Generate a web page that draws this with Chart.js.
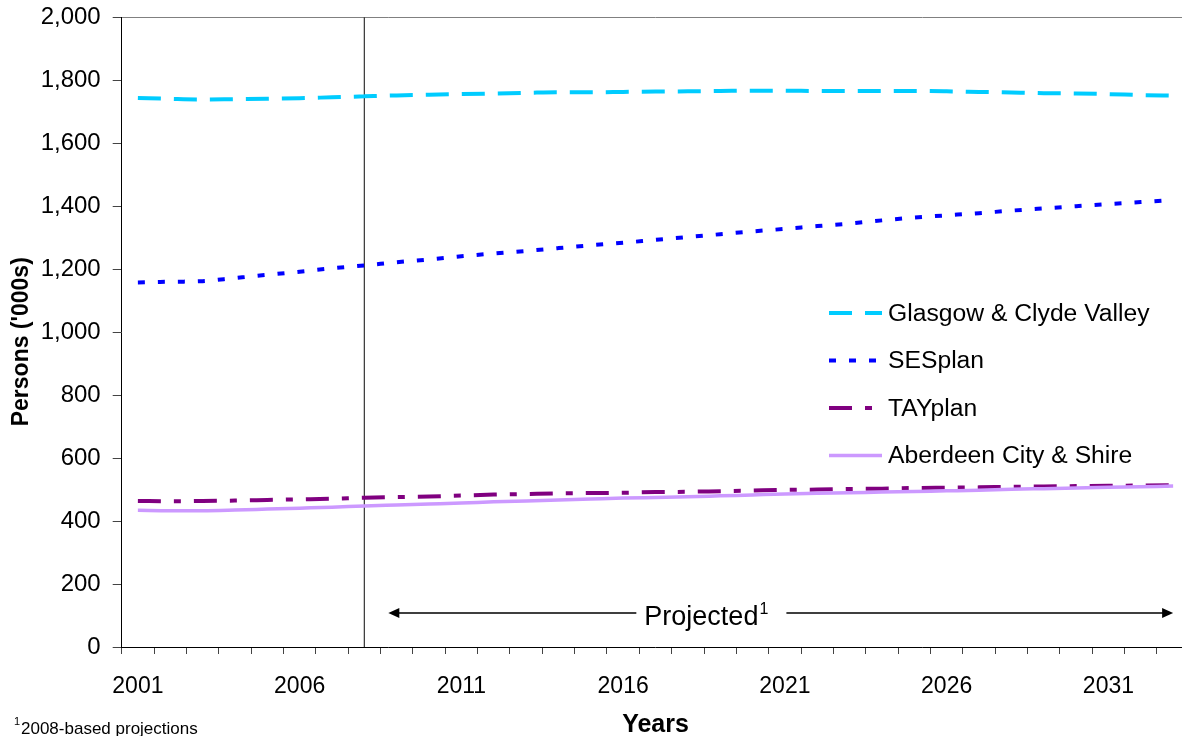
<!DOCTYPE html>
<html>
<head>
<meta charset="utf-8">
<script src="https://cdn.jsdelivr.net/npm/chart.js@4.4.0/dist/chart.umd.min.js"></script>
<style>
  html, body { margin: 0; padding: 0; overflow: hidden; background: #fff; }
  #wrap { position: relative; width: 1200px; height: 736px; }
</style>
</head>
<body>
<div id="wrap"><canvas id="myChart" width="1200" height="736"></canvas></div>
<script>
const years = ["2001", "2002", "2003", "2004", "2005", "2006", "2007", "2008", "2009", "2010",
  "2011", "2012", "2013", "2014", "2015", "2016", "2017", "2018", "2019", "2020",
  "2021", "2022", "2023", "2024", "2025", "2026", "2027", "2028", "2029", "2030",
  "2031", "2032", "2033"];
const labelledYears = ["2001", "2006", "2011", "2016", "2021", "2026", "2031"];
const yTicks = [0, 200, 400, 600, 800, 1000, 1200, 1400, 1600, 1800, 2000];
const seriesNames = ["Glasgow & Clyde Valley", "SESplan", "TAYplan", "Aberdeen City & Shire"];

// persons, thousands
const glasgow = [1744, 1741, 1739, 1740, 1741, 1743, 1746, 1749, 1752, 1754,
  1756, 1758, 1760, 1762, 1762, 1763, 1764, 1765, 1766, 1767,
  1767, 1766, 1766, 1766, 1766, 1765, 1763, 1761, 1759, 1758,
  1756, 1753, 1751];
const sesplan = [1158, 1160, 1162, 1172, 1182, 1192, 1203, 1212, 1222, 1231,
  1241, 1250, 1258, 1267, 1276, 1284, 1293, 1302, 1311, 1320,
  1328, 1337, 1345, 1355, 1364, 1371, 1378, 1386, 1393, 1400,
  1407, 1413, 1420];
const tayplan = [464, 463, 464, 465, 467, 469, 471, 474, 476, 478,
  481, 484, 486, 488, 489, 490, 492, 493, 495, 497,
  499, 500, 502, 503, 505, 506, 507, 509, 510, 511,
  512, 513, 514];
const aberdeen = [434, 433, 433, 435, 438, 441, 444, 448, 451, 454,
  457, 461, 464, 467, 470, 473, 475, 477, 480, 483,
  486, 488, 490, 492, 494, 496, 498, 501, 503, 505,
  507, 509, 511];

const projectionStart = "2008";
const projectedText = "Projected";
const footnoteText = "2008-based projections";

const FONT = "'Liberation Sans', Arial, sans-serif";
const ctx = document.getElementById("myChart").getContext("2d");

const styles = [
  { color: "#00CCFF", dash: [23, 13], width: 4 },
  { color: "#0000FF", dash: [7, 13], width: 4 },
  { color: "#800080", dash: [23, 13, 7, 13], width: 4 },
  { color: "#CC99FF", dash: [], width: 3.5 },
];

const seriesData = [glasgow, sesplan, tayplan, aberdeen];

// vertical marker at start of projections
const markerPlugin = {
  id: "marker",
  beforeDatasetsDraw(chart) {
    const { ctx, chartArea, scales } = chart;
    const x = scales.x.getPixelForValue(years.indexOf(projectionStart));
    ctx.save();
    ctx.strokeStyle = "#333";
    ctx.lineWidth = 1.2;
    ctx.beginPath();
    ctx.moveTo(x, chartArea.top);
    ctx.lineTo(x, chartArea.bottom);
    ctx.stroke();
    ctx.restore();
  },
};

// legend, projected arrow, footnote
const overlayPlugin = {
  id: "overlay",
  afterDatasetsDraw(chart) {
    const { ctx, scales } = chart;
    ctx.save();

    // legend
    chart.data.datasets.forEach((ds, i) => {
      const y = 313 + i * 47.5;
      ctx.strokeStyle = ds.borderColor;
      ctx.lineWidth = ds.borderWidth;
      ctx.setLineDash(ds.borderDash);
      ctx.beginPath();
      ctx.moveTo(829, y);
      ctx.lineTo(882, y);
      ctx.stroke();
      ctx.setLineDash([]);
      ctx.fillStyle = "#000";
      ctx.font = "24.7px " + FONT;
      ctx.textBaseline = "middle";
      ctx.textAlign = "left";
      ctx.fillText(ds.label, 888, y + 1);
    });

    // projected arrow
    const x0 = scales.x.getPixelForValue(years.indexOf(projectionStart)) + 24;
    const x1 = scales.x.getPixelForValue(years.length - 1);
    const ay = scales.y.getPixelForValue(108);
    ctx.font = "27px " + FONT;
    ctx.textBaseline = "alphabetic";
    const tx = x0 + 256;
    const tw = ctx.measureText(projectedText).width;
    ctx.fillText(projectedText, tx, ay + 12);
    ctx.font = "16px " + FONT;
    ctx.fillText("1", tx + tw + 1, ay + 1);

    ctx.strokeStyle = "#000";
    ctx.lineWidth = 1.5;
    ctx.beginPath();
    ctx.moveTo(x0 + 8, ay);
    ctx.lineTo(tx - 8, ay);
    ctx.moveTo(tx + tw + 28, ay);
    ctx.lineTo(x1 - 8, ay);
    ctx.stroke();
    ctx.fillStyle = "#000";
    ctx.beginPath();
    ctx.moveTo(x0, ay);
    ctx.lineTo(x0 + 11, ay - 5);
    ctx.lineTo(x0 + 11, ay + 5);
    ctx.closePath();
    ctx.fill();
    ctx.beginPath();
    ctx.moveTo(x1, ay);
    ctx.lineTo(x1 - 11, ay - 5);
    ctx.lineTo(x1 - 11, ay + 5);
    ctx.closePath();
    ctx.fill();

    // footnote
    ctx.font = "11px " + FONT;
    ctx.fillText("1", 14, 725);
    ctx.font = "17px " + FONT;
    ctx.fillText(footnoteText, 21, 734);

    ctx.restore();
  },
};

new Chart(ctx, {
  type: "line",
  data: {
    labels: years,
    datasets: seriesNames.map((name, i) => ({
      label: name,
      data: seriesData[i],
      borderColor: styles[i].color,
      backgroundColor: styles[i].color,
      borderWidth: styles[i].width,
      borderDash: styles[i].dash,
      pointRadius: 0,
      cubicInterpolationMode: "monotone",
      fill: false,
      order: 3 - i,
    })),
  },
  options: {
    responsive: false,
    animation: false,
    layout: { padding: { top: 17.3, right: 10.7, left: 0, bottom: 0 } },
    plugins: {
      legend: { display: false },
      tooltip: { enabled: false },
    },
    scales: {
      x: {
        offset: true,
        afterFit: (scale) => { scale.height = 89; },
        border: { color: "#000", width: 1 },
        grid: {
          offset: true,
          drawOnChartArea: false,
          tickLength: 7,
          tickColor: "#444",
        },
        ticks: {
          autoSkip: false,
          maxRotation: 0,
          padding: 19,
          color: "#000",
          font: { family: FONT, size: 23 },
          callback: (val, idx) => (labelledYears.includes(years[idx]) ? years[idx] : ""),
        },
        title: {
          display: true,
          text: "Years",
          color: "#000",
          font: { family: FONT, size: 25, weight: "bold", lineHeight: 1 },
          padding: { top: 0, bottom: -2 },
        },
      },
      y: {
        min: 0,
        max: 2000,
        afterFit: (scale) => {
          scale.width = 121.7;
          scale.paddingTop = 0;
          scale.paddingBottom = 0;
        },
        afterBuildTicks: (scale) => { scale.ticks = yTicks.map((v) => ({ value: v })); },
        border: { color: "#000", width: 1 },
        grid: {
          color: (c) => (c.tick && c.tick.value === 2000 ? "#808080" : "rgba(0,0,0,0)"),
          tickLength: 9,
          tickColor: "#444",
        },
        ticks: {
          padding: 12,
          color: "#000",
          font: { family: FONT, size: 24 },
          callback: (v) => v.toLocaleString("en-US"),
        },
        title: {
          display: true,
          // trailing spaces nudge the centred title slightly downward
          text: "Persons ('000s)   ",
          color: "#000",
          font: { family: FONT, size: 23, weight: "bold" },
          padding: { top: 8, bottom: 0 },
        },
      },
    },
  },
  plugins: [markerPlugin, overlayPlugin],
});
</script>
</body>
</html>
